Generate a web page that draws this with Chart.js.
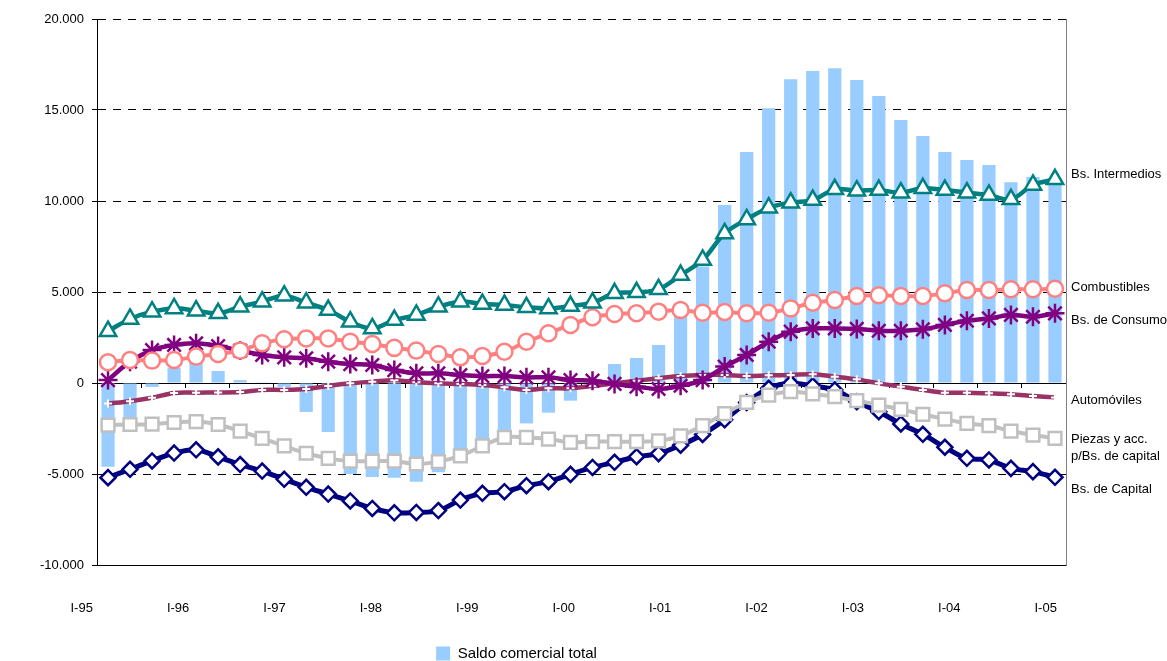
<!DOCTYPE html>
<html>
<head>
<meta charset="utf-8">
<script src="https://cdn.jsdelivr.net/npm/chart.js@4.4.1/dist/chart.umd.min.js"></script>
<style>
  html, body { margin: 0; padding: 0; background: #fff; }
  #wrap { width: 1167px; height: 661px; }
</style>
</head>
<body>
<div id="wrap"><canvas id="c" width="1167" height="661"></canvas></div>
<script>
// ---- categories (quarters) ----
const quarters = [
  'I-95','II-95','III-95','IV-95','I-96','II-96','III-96','IV-96',
  'I-97','II-97','III-97','IV-97','I-98','II-98','III-98','IV-98',
  'I-99','II-99','III-99','IV-99','I-00','II-00','III-00','IV-00',
  'I-01','II-01','III-01','IV-01','I-02','II-02','III-02','IV-02',
  'I-03','II-03','III-03','IV-03','I-04','II-04','III-04','IV-04',
  'I-05','II-05','III-05','IV-05'
];
// ---- bottom axis tick labels ----
const yearLabels = ['I-95','I-96','I-97','I-98','I-99','I-00','I-01','I-02','I-03','I-04','I-05'];

// ---- series values ----
const saldoTotal = [
  -4600, -2000, -220, 850, 1200, 660, 160, 40, -220, -1590, -2690, -5000,
  -5160, -5200, -5420, -4900, -3950, -3300, -2700, -2220, -1630, -970, 150, 1040,
  1370, 2090, 3700, 6400, 9780, 12690, 15090, 16690, 17140, 17290, 16650, 15770,
  14450, 13570, 12690, 12250, 11980, 11030, 11320, 10900
];
const bsIntermedios = [
  2850, 3520, 3920, 4100, 3970, 3830, 4190, 4470, 4800, 4410, 4010, 3370,
  3000, 3460, 3740, 4190, 4470, 4340, 4290, 4160, 4100, 4230, 4410, 4930,
  4980, 5150, 5930, 6760, 8220, 8990, 9630, 9910, 10050, 10640, 10570, 10600,
  10460, 10700, 10600, 10460, 10330, 10090, 10880, 11190
];
const combustibles = [
  1140, 1260, 1230, 1260, 1450, 1590, 1780, 2180, 2400, 2450, 2450, 2270,
  2140, 1930, 1780, 1590, 1410, 1480, 1720, 2270, 2730, 3190, 3610, 3790,
  3830, 3920, 4010, 3860, 3900, 3830, 3860, 4100, 4410, 4560, 4780, 4820,
  4780, 4780, 4930, 5110, 5110, 5150, 5150, 5180
];
const bsConsumo = [
  160, 1170, 1810, 2090, 2180, 2030, 1780, 1540, 1410, 1360, 1170, 1040,
  990, 710, 530, 530, 440, 380, 380, 310, 310, 160, 130, -50,
  -200, -330, -150, 160, 900, 1540, 2270, 2820, 3000, 3000, 2970, 2870,
  2870, 2950, 3190, 3420, 3550, 3740, 3640, 3830
];
const automoviles = [
  -1130, -1000, -810, -550, -530, -520, -500, -380, -380, -330, -160, -20,
  70, 150, 40, -20, -50, -110, -240, -380, -290, -290, -160, -20,
  130, 260, 380, 440, 440, 380, 420, 440, 480, 350, 200, -20,
  -200, -380, -530, -530, -570, -620, -710, -790
];
const piezasCapital = [
  -2320, -2280, -2260, -2170, -2120, -2280, -2650, -3040, -3460, -3860, -4140, -4290,
  -4290, -4290, -4450, -4320, -4010, -3460, -2990, -2990, -3080, -3260, -3220, -3220,
  -3220, -3180, -2900, -2340, -1680, -1070, -660, -480, -600, -750, -970, -1210,
  -1450, -1720, -1980, -2220, -2340, -2640, -2860, -3040
];
const bsCapital = [
  -5200, -4740, -4280, -3850, -3670, -4060, -4480, -4840, -5290, -5730, -6100, -6480,
  -6890, -7130, -7110, -7010, -6430, -6060, -5970, -5640, -5420, -5020, -4640, -4360,
  -4050, -3880, -3420, -2830, -2020, -1070, -290, -20, -160, -380, -1030, -1580,
  -2250, -2820, -3530, -4140, -4230, -4690, -4870, -5180
];

// ---- side labels (text at right of plot, anchored at a value) ----
const sideLabelTexts  = ['Bs. Intermedios', 'Combustibles', 'Bs. de Consumo', 'Automóviles', 'Piezas y acc.', 'p/Bs. de capital', 'Bs. de Capital'];
const sideLabelValues = [11480, 5260, 3460, -970, -3090, -4050, -5840];

const FONT = "'Liberation Sans', Arial, sans-serif";

function fmtThousands(v) {
  const neg = v < 0;
  const s = String(Math.abs(Math.round(v))).replace(/\B(?=(\d{3})+(?!\d))/g, '.');
  return (neg ? '-' : '') + s;
}

const sideLabelsPlugin = {
  id: 'sideLabels',
  afterDatasetsDraw(chart) {
    const {ctx, chartArea, scales} = chart;
    ctx.save();
    ctx.font = '13px ' + FONT;
    ctx.fillStyle = '#000';
    ctx.textAlign = 'left';
    ctx.textBaseline = 'middle';
    sideLabelTexts.forEach((t, i) => {
      ctx.fillText(t, chartArea.right + 5, scales.y.getPixelForValue(sideLabelValues[i]));
    });
    ctx.restore();
  }
};

const legendShiftPlugin = {
  id: 'legendShift',
  afterLayout(chart) {
    const l = chart.legend;
    if (!l) return;
    const dx = -67, dy = 10;
    l.left += dx; l.right += dx; l.top += dy; l.bottom += dy;
  }
};

function lineDs(label, data, color, style, radius, width, extra) {
  return Object.assign({
    type: 'line',
    label: label,
    data: data,
    borderColor: color,
    borderWidth: width,
    backgroundColor: '#fff',
    pointStyle: style,
    pointRadius: radius,
    pointHoverRadius: radius,
    pointBorderColor: color,
    pointBackgroundColor: '#fff',
    pointBorderWidth: 2.5,
    tension: 0.35,
    fill: false,
    xAxisID: 'x',
    yAxisID: 'y'
  }, extra || {});
}

new Chart(document.getElementById('c'), {
  data: {
    labels: quarters,
    datasets: [
      {
        type: 'bar',
        label: 'Saldo comercial total',
        data: saldoTotal,
        backgroundColor: '#99CCFF',
        borderWidth: 0,
        barPercentage: 0.6,
        categoryPercentage: 1.0,
        order: 10,
        xAxisID: 'x',
        yAxisID: 'y'
      },
      lineDs('Bs. de Capital', bsCapital, '#000080', 'rectRot', 7.5, 5, {order: 6}),
      lineDs('Piezas y acc. p/Bs. de capital', piezasCapital, '#C0C0C0', 'rect', 9, 4, {order: 5}),
      lineDs('Automóviles', automoviles, '#993366', 'cross', 4, 4.5, {order: 4, pointBorderColor: '#fff', pointBorderWidth: 2}),
      lineDs('Bs. de Consumo', bsConsumo, '#800080', 'star', 9.5, 4.5, {order: 3, pointBorderWidth: 2.5}),
      lineDs('Combustibles', combustibles, '#FF8080', 'circle', 8, 4, {order: 2}),
      lineDs('Bs. Intermedios', bsIntermedios, '#008080', 'triangle', 9.5, 4.5, {order: 1})
    ]
  },
  options: {
    responsive: false,
    animation: false,
    layout: { padding: { top: 19, left: 0, right: 0, bottom: 0 } },
    plugins: {
      tooltip: { enabled: false },
      legend: {
        display: true,
        position: 'bottom',
        align: 'center',
        labels: {
          filter: (item) => item.datasetIndex === 0,
          boxWidth: 14,
          boxHeight: 14,
          padding: 10,
          color: '#000',
          font: { family: FONT, size: 15 }
        }
      }
    },
    scales: {
      x: {
        type: 'category',
        position: { y: 0 },
        offset: true,
        grid: {
          offset: true,
          drawOnChartArea: false,
          drawTicks: true,
          tickLength: 4,
          color: (c) => (c.index === undefined || c.index % 2 === 0) ? '#000' : 'rgba(0,0,0,0)',
          tickColor: (c) => (c.index === undefined || c.index % 2 === 0) ? '#000' : 'rgba(0,0,0,0)'
        },
        border: { display: true, color: '#000', width: 1 },
        ticks: { display: false, autoSkip: false }
      },
      x2: {
        type: 'linear',
        position: 'bottom',
        min: 0,
        max: 10.052,
        afterBuildTicks: (s) => { s.ticks = yearLabels.map((_, i) => ({ value: i })); },
        afterFit: (s) => { s.height = 61; },
        grid: { drawOnChartArea: false, drawTicks: false },
        border: { display: true, color: '#000', width: 1 },
        ticks: {
          autoSkip: false,
          maxRotation: 0,
          padding: 36,
          labelOffset: -15.3,
          color: '#000',
          font: { family: FONT, size: 13 },
          callback: (v) => yearLabels[v]
        }
      },
      y: {
        type: 'linear',
        position: 'left',
        min: -10000,
        max: 20000,
        afterFit: (s) => { s.width = 97; },
        ticks: {
          stepSize: 5000,
          padding: 8,
          color: '#000',
          font: { family: FONT, size: 13 },
          callback: (v) => fmtThousands(v)
        },
        grid: {
          color: (c) => (c.tick && (c.tick.value === 0 || c.tick.value === -10000)) ? 'rgba(0,0,0,0)' : '#000',
          tickColor: '#000',
          tickLength: 5,
          tickBorderDash: [],
          lineWidth: 1
        },
        border: { display: true, color: '#000', width: 1, dash: [8, 7] }
      },
      y2: {
        type: 'linear',
        position: 'right',
        min: -10000,
        max: 20000,
        afterFit: (s) => { s.width = 101; },
        grid: { drawOnChartArea: false, drawTicks: false },
        border: { display: true, color: '#808080', width: 1 },
        ticks: { display: false }
      }
    }
  },
  plugins: [sideLabelsPlugin, legendShiftPlugin]
});
</script>
</body>
</html>
